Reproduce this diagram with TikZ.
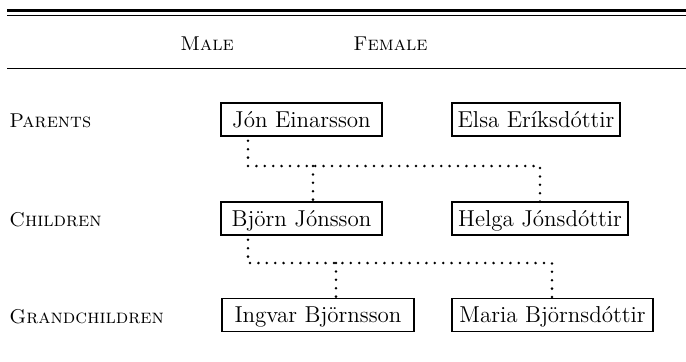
\documentclass[tikz,border=0pt]{standalone}
\usepackage{fontspec}
\begin{document}
\begin{tikzpicture}[x=0.5pt,y=-0.5pt,
  person/.style={draw,line width=0.8pt,inner sep=0pt,minimum height=16.5pt,
    text height=9.5pt,text depth=2pt,font=\fontsize{11.5}{13}\selectfont},
  rowlabel/.style={anchor=base west,inner sep=0pt,font=\fontsize{10}{12}\selectfont\scshape},
  dots/.style={line width=1.4pt,line cap=round,dash pattern=on 0pt off 4.2pt}]
\useasboundingbox (0,0) rectangle (686,361);
% rules
\draw[line width=1.7pt] (7,10.7) -- (686,10.7);
\draw[line width=0.7pt] (7,15.4) -- (686,15.4);
\draw[line width=0.7pt] (7,68.5) -- (686,68.5);
% headers
\node[rowlabel] (male) at (180,50) {Male};
\node[rowlabel] (female) at (353,50) {Female};
\node[rowlabel] (parents) at (9,127) {Parents};
\node[rowlabel] (children) at (9,226) {Children};
\node[rowlabel] (grand) at (9,323) {Grandchildren};
% people
\node[person,minimum width=80.5pt] (jon) at (301.5,119.5) {Jón Einarsson};
\node[person,minimum width=84pt] (elsa) at (536,119.5) {Elsa Eríksdóttir};
\node[person,minimum width=80.5pt] (bjorn) at (301.5,218.5) {Björn Jónsson};
\node[person,minimum width=88pt] (helga) at (540,218.5) {Helga Jónsdóttir};
\node[person,minimum width=96pt] (ingvar) at (318,315) {Ingvar Björnsson};
\node[person,minimum width=100.5pt] (maria) at (552.5,315) {Maria Björnsdóttir};
% junctions
\coordinate (a1) at (248,166);
\coordinate (a2) at (313,166);
\coordinate (a3) at (540,166);
\coordinate (b1) at (248,263);
\coordinate (b2) at (336,263);
\coordinate (b3) at (552,263);
% connectors
\draw[dots] (jon.south -| a1) ++(0,4) -- (a1) -- (a3) -- ([yshift=-2pt]helga.north -| a3);
\draw[dots] (a2) -- ([yshift=-2pt]bjorn.north -| a2);
\draw[dots] (bjorn.south -| b1) ++(0,4) -- (b1) -- (b3) -- ([yshift=-2pt]maria.north -| b3);
\draw[dots] (b2) -- ([yshift=-2pt]ingvar.north -| b2);
\end{tikzpicture}
\end{document}
